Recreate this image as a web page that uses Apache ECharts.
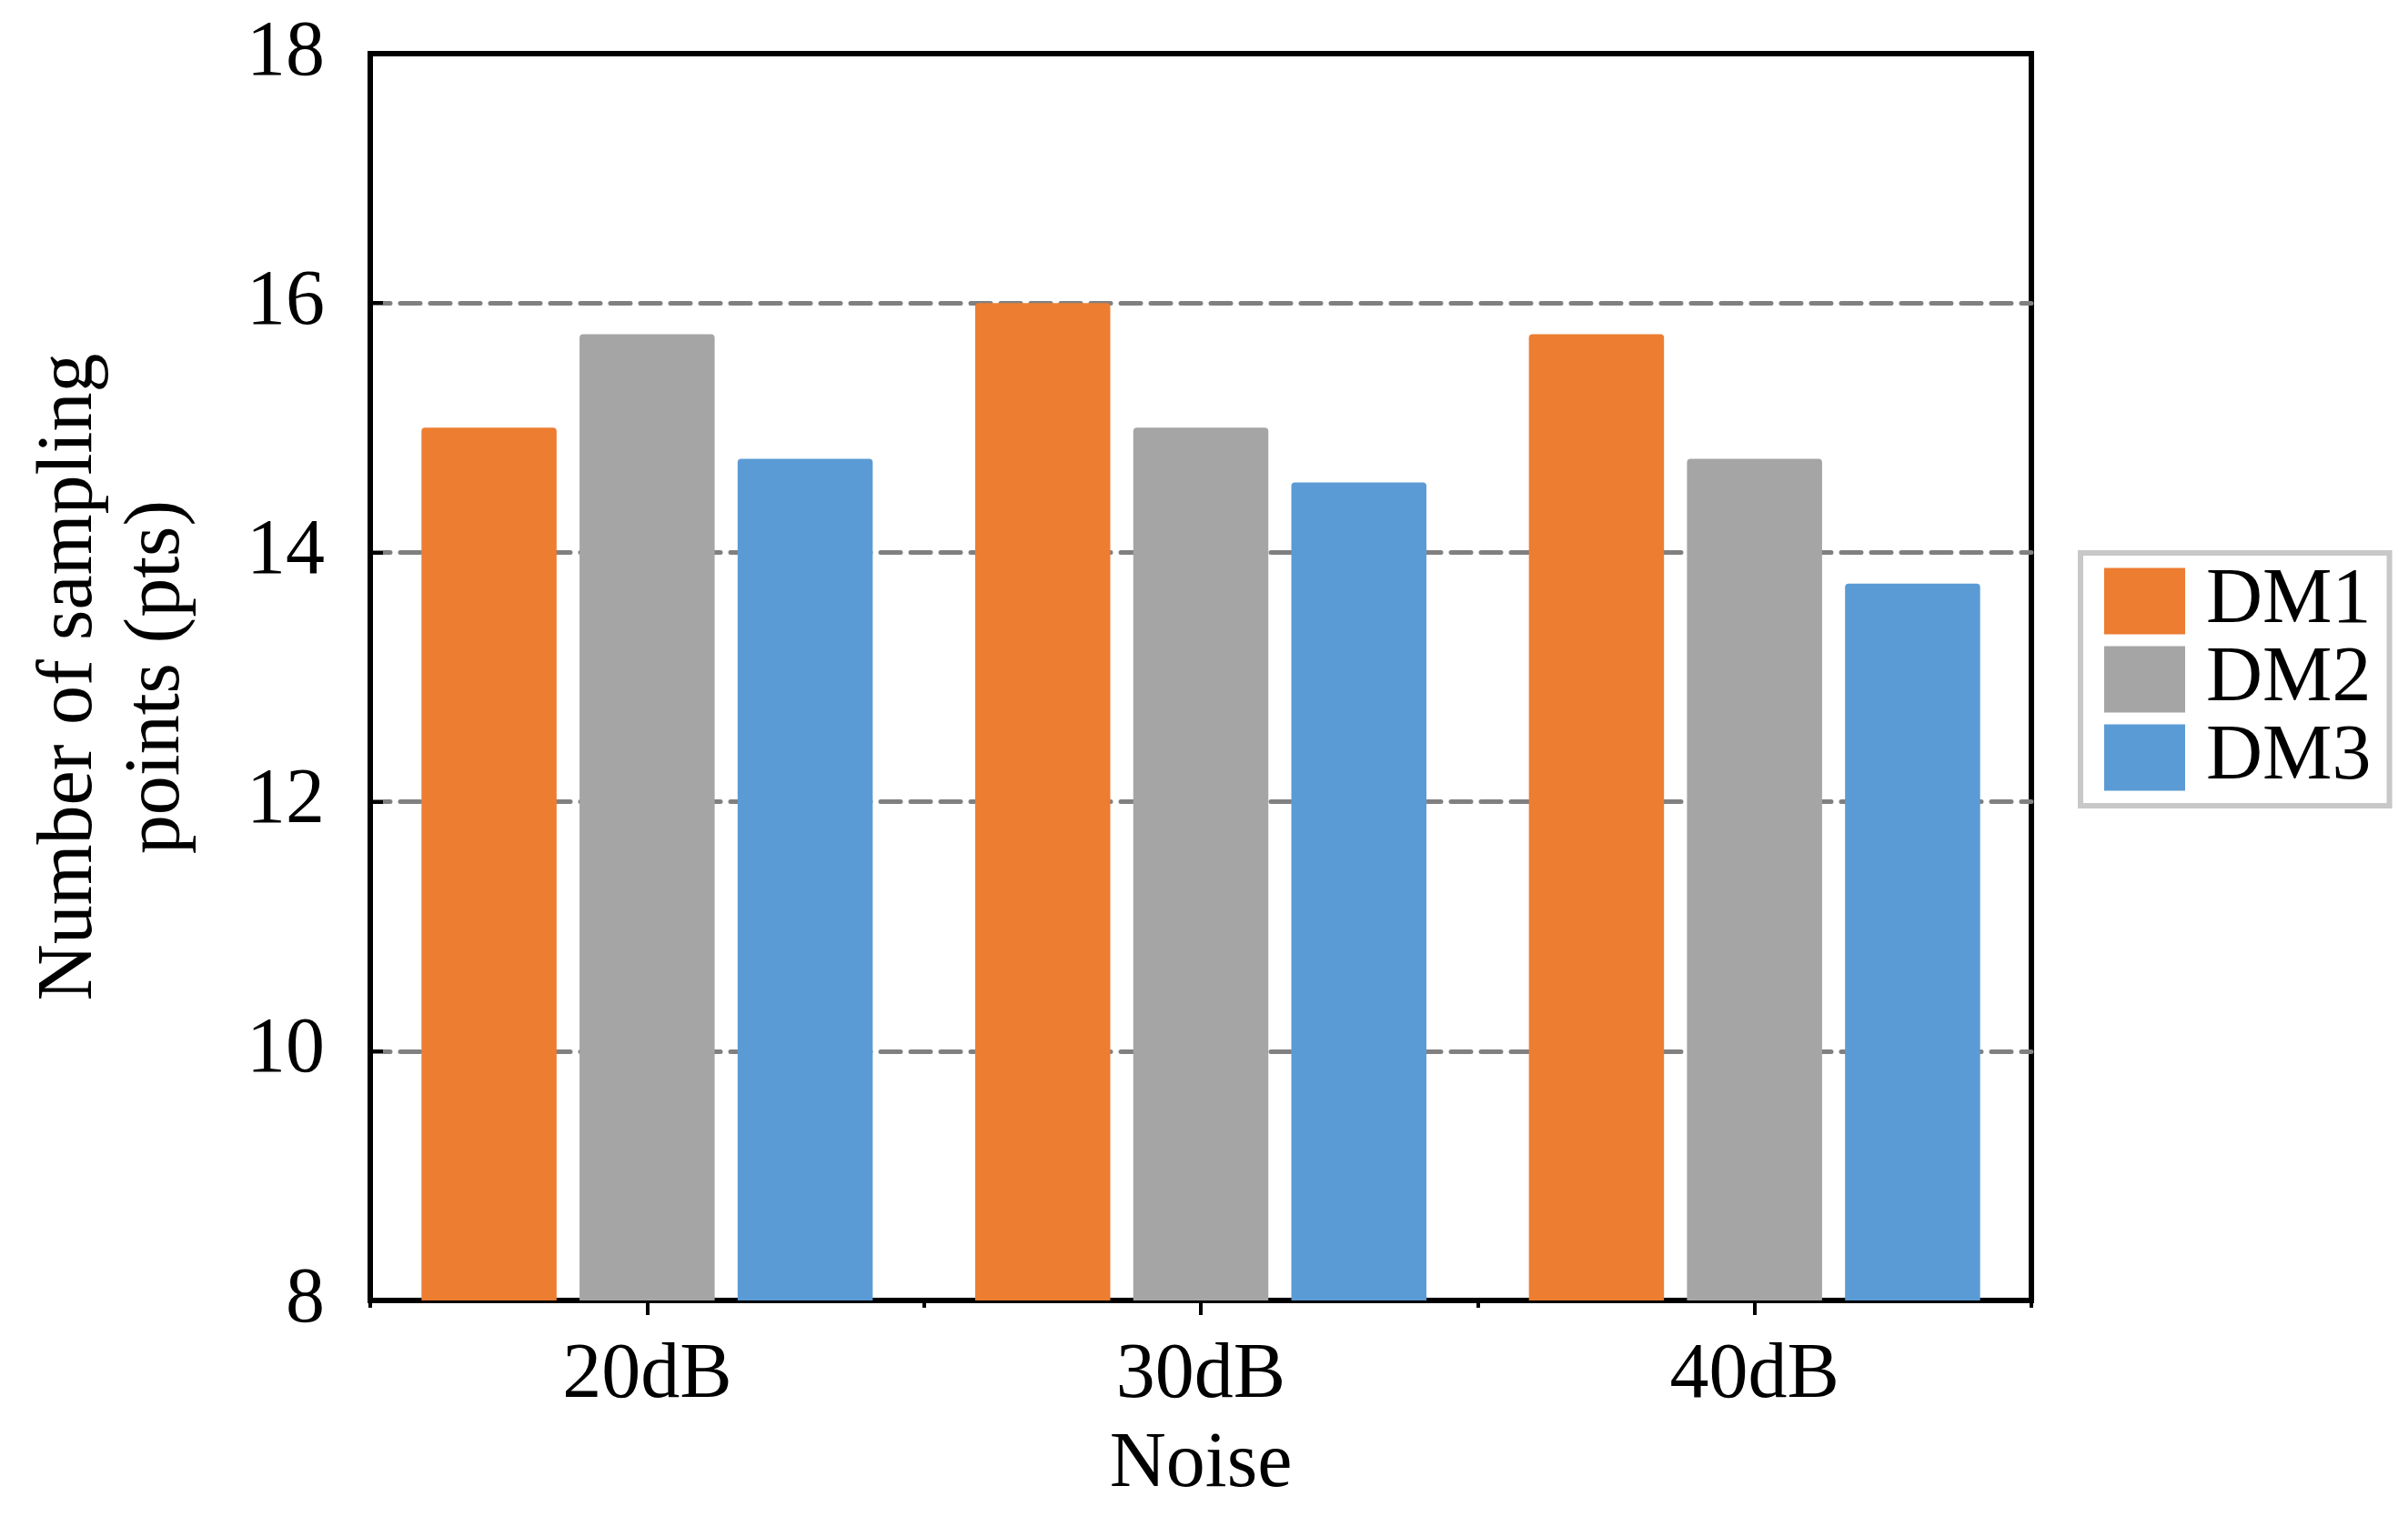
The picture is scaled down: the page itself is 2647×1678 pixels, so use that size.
<!DOCTYPE html>
<html>
<head>
<meta charset="utf-8">
<script src="https://cdn.jsdelivr.net/npm/echarts@6/dist/echarts.min.js"></script>
<style>
html,body{margin:0;padding:0;background:#fff;}
#c{width:2647px;height:1678px;}
</style>
</head>
<body>
<div id="c"></div>
<script>
const categories = ['20dB', '30dB', '40dB'];
const seriesNames = ['DM1', 'DM2', 'DM3'];
const dm1 = [15, 16, 15.75];
const dm2 = [15.75, 15, 14.75];
const dm3 = [14.75, 14.56, 13.75];
const colors = ['#ED7D31', '#A5A5A5', '#5B9BD5'];
const yTicks = { min: 8, max: 18, interval: 2 };

const FONT = '"Liberation Serif", "Times New Roman", serif';
const FS = 86;

const chart = echarts.init(document.getElementById('c'), null, { renderer: 'canvas' });
const values = [dm1, dm2, dm3];

chart.setOption({
  animation: false,
  backgroundColor: '#fff',
  color: colors,
  textStyle: { fontFamily: FONT, color: '#000' },
  grid: {
    left: 407, top: 59, right: 414, bottom: 248,
    show: true, borderColor: '#000', borderWidth: 6, backgroundColor: 'transparent'
  },
  legend: {
    orient: 'vertical',
    left: 2287, top: 608,
    padding: [10, 20, 10, 26],
    itemWidth: 89, itemHeight: 73, itemGap: 0,
    borderColor: '#C8C8C8', borderWidth: 6,
    icon: 'rect',
    textStyle: { fontFamily: FONT, fontSize: FS, color: '#000', padding: [0, 0, 0, 18] },
    data: seriesNames
  },
  xAxis: [
    {
      type: 'category', data: categories, boundaryGap: true,
      axisLine: { show: true, lineStyle: { color: '#000', width: 6 } },
      axisTick: { show: true, inside: false, length: 8, lineStyle: { color: '#000', width: 4 } },
      axisLabel: { show: true, fontFamily: FONT, fontSize: FS, color: '#000', margin: 40 },
      splitLine: { show: false },
      name: 'Noise', nameLocation: 'middle', nameGap: 138,
      nameTextStyle: { fontFamily: FONT, fontSize: FS, color: '#000' }
    },
    {
      type: 'category', data: categories, boundaryGap: true, position: 'bottom',
      axisLine: { show: false },
      axisTick: { show: true, alignWithLabel: true, inside: false, length: 16, lineStyle: { color: '#000', width: 4 } },
      axisLabel: { show: false },
      splitLine: { show: false }
    }
  ],
  yAxis: {
    type: 'value', min: yTicks.min, max: yTicks.max, interval: yTicks.interval,
    axisLine: { show: true, lineStyle: { color: '#000', width: 6 } },
    axisTick: { show: true, inside: true, length: 14, lineStyle: { color: '#000', width: 4 } },
    axisLabel: { fontFamily: FONT, fontSize: FS, color: '#000', margin: 50 },
    splitLine: { show: true, showMinLine: false, showMaxLine: false,
      lineStyle: { color: '#808080', width: 5, type: [22, 11], cap: 'round' } },
    name: 'Number of sampling\npoints (pts)', nameLocation: 'middle', nameGap: 186,
    nameTextStyle: { fontFamily: FONT, fontSize: FS, color: '#000', lineHeight: 96 }
  },
  series: seriesNames.map((n, i) => ({
    name: n, type: 'bar', xAxisIndex: 0,
    data: values[i],
    barWidth: '24.4%', barGap: '17%',
    itemStyle: { color: colors[i], borderRadius: [4, 4, 0, 0] },
    z: 1
  }))
});
</script>
</body>
</html>
